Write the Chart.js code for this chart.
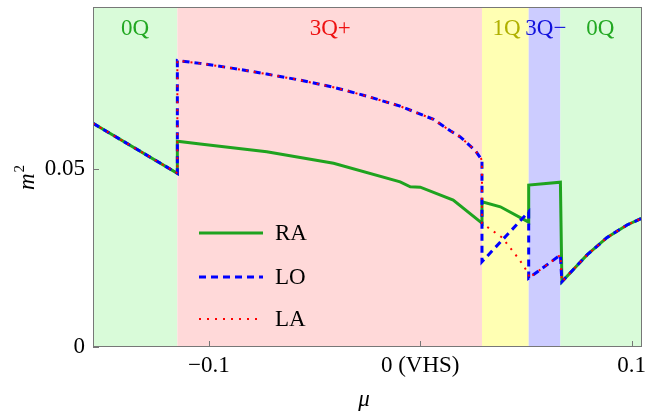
<!DOCTYPE html>
<html>
<head>
<meta charset="utf-8">
<script src="https://cdn.jsdelivr.net/npm/chart.js@4.4.1/dist/chart.umd.min.js"></script>
<style>
  body { margin: 0; background: #fff; }
  #chart { display: block; }
</style>
</head>
<body>
<canvas id="chart" width="646" height="415"></canvas>
<script>
// phase regions along mu
var regionNames = ['0Q', '3Q+', '1Q', '3Q\u2212', '0Q'];
var regionEdges = [-0.1548, -0.1149, 0.0292, 0.0513, 0.0663, 0.1049];
var regionFill = ['#d9fbd9', '#ffd9d9', '#ffffb3', '#ccccff', '#d9fbd9'];
var regionText = ['#22a822', '#ee1111', '#b0b000', '#1111dd', '#22a822'];
var regionLabelX = [-0.1349, -0.0426, 0.0408, 0.0594, 0.0852];

// axis ticks
var xTicks = [-0.1, 0, 0.1];
var xTickLabels = ['\u22120.1', '0 (VHS)', '0.1'];
var yTicks = [0, 0.05];
var yTickLabels = ['0', '0.05'];

// RA
var raMu = [-0.1548, -0.1149, -0.1149, -0.1041, -0.0726, -0.0410, -0.0095, -0.0047, 0, 0.0156, 0.0292,
            0.0292, 0.0379, 0.0513, 0.0513, 0.0663, 0.0670, 0.0789, 0.0884, 0.0978, 0.1049];
var raM2 = [0.0627, 0.0487, 0.0577, 0.0569, 0.0547, 0.0515, 0.0463, 0.0449, 0.0448, 0.0412, 0.0347,
            0.0407, 0.0393, 0.0350, 0.0454, 0.0462, 0.0183, 0.0258, 0.0307, 0.0342, 0.0361];

// LO
var loMu = [-0.1548, -0.1149, -0.1149, -0.1041, -0.0884, -0.0726, -0.0568, -0.0410, -0.0252, -0.0095,
            0.0063, 0.0142, 0.0189, 0.0260, 0.0292, 0.0292, 0.0513, 0.0513, 0.0663, 0.0670,
            0.0789, 0.0884, 0.0978, 0.1049];
var loM2 = [0.0627, 0.0487, 0.0803, 0.0795, 0.0781, 0.0765, 0.0748, 0.0728, 0.0703, 0.0675,
            0.0638, 0.0606, 0.0589, 0.0551, 0.0524, 0.0239, 0.0379, 0.0193, 0.0258, 0.0183,
            0.0258, 0.0307, 0.0342, 0.0361];

// LA
var laMu = [-0.1548, -0.1149, -0.1149, -0.1041, -0.0884, -0.0726, -0.0568, -0.0410, -0.0252, -0.0095,
            0.0063, 0.0142, 0.0189, 0.0260, 0.0292, 0.0292, 0.0387, 0.0470, 0.0513, 0.0513, 0.0663, 0.0670,
            0.0789, 0.0884, 0.0978, 0.1049];
var laM2 = [0.0627, 0.0487, 0.0803, 0.0795, 0.0781, 0.0765, 0.0748, 0.0728, 0.0703, 0.0675,
            0.0638, 0.0606, 0.0589, 0.0551, 0.0524, 0.0347, 0.0307, 0.0244, 0.0205, 0.0193, 0.0258, 0.0183,
            0.0258, 0.0307, 0.0342, 0.0361];

function pts(xs, ys) {
  var out = [];
  for (var k = 0; k < xs.length; k++) out.push({x: xs[k], y: ys[k]});
  return out;
}

function noPad(s) {
  s.paddingTop = 0; s.paddingBottom = 0; s.paddingLeft = 0; s.paddingRight = 0;
}

var serif = '"Liberation Serif", "DejaVu Serif", serif';
var frameColor = '#777777';

var legendItems = [
  {label: 'RA', color: '#1fa31f', width: 3, dash: []},
  {label: 'LO', color: '#0000ff', width: 3, dash: [7, 5]},
  {label: 'LA', color: '#ff0000', width: 2, dash: [2, 6]}
];

var deco = {
  id: 'deco',
  beforeDatasetsDraw: function(chart) {
    var c = chart.ctx, a = chart.chartArea, xs = chart.scales.x;
    c.save();
    for (var r = 0; r < regionNames.length; r++) {
      var x0 = Math.max(a.left, xs.getPixelForValue(regionEdges[r]));
      var x1 = Math.min(a.right, xs.getPixelForValue(regionEdges[r + 1]));
      c.fillStyle = regionFill[r];
      c.fillRect(x0, a.top, x1 - x0, a.bottom - a.top);
    }
    c.font = '23px ' + serif;
    c.textAlign = 'center';
    c.textBaseline = 'alphabetic';
    for (var r = 0; r < regionNames.length; r++) {
      c.fillStyle = regionText[r];
      c.fillText(regionNames[r], xs.getPixelForValue(regionLabelX[r]), 35);
    }
    c.restore();
  },
  afterDatasetsDraw: function(chart) {
    var c = chart.ctx, a = chart.chartArea, xs = chart.scales.x, ys = chart.scales.y;
    c.save();
    // legend
    var ly = [233, 277, 319];
    c.font = '23px ' + serif;
    c.textBaseline = 'middle';
    c.textAlign = 'left';
    for (var k = 0; k < legendItems.length; k++) {
      var it = legendItems[k];
      c.strokeStyle = it.color;
      c.lineWidth = it.width;
      c.setLineDash(it.dash);
      c.beginPath();
      c.moveTo(199, ly[k]);
      c.lineTo(263, ly[k]);
      c.stroke();
      c.setLineDash([]);
      c.fillStyle = '#000';
      c.fillText(it.label, 275, ly[k] + 1);
    }
    // frame and inner ticks
    c.strokeStyle = frameColor;
    c.lineWidth = 1;
    c.strokeRect(a.left + 0.5, a.top + 0.5, a.right - a.left - 1, a.bottom - a.top - 1);
    c.beginPath();
    xTicks.forEach(function(v) {
      var px = Math.round(xs.getPixelForValue(v)) + 0.5;
      c.moveTo(px, a.bottom);
      c.lineTo(px, a.bottom - 6);
    });
    yTicks.forEach(function(v) {
      var py = Math.round(ys.getPixelForValue(v)) + 0.5;
      c.moveTo(a.left, py);
      c.lineTo(a.left + 6, py);
    });
    c.stroke();
    // axis titles
    c.fillStyle = '#000';
    c.textBaseline = 'alphabetic';
    c.font = 'italic 23px ' + serif;
    c.textAlign = 'center';
    c.fillText('\u03bc', 364, 406);
    c.translate(34, 190);
    c.rotate(-Math.PI / 2);
    c.textAlign = 'left';
    c.fillText('m', 0, 0);
    var mw = c.measureText('m').width;
    c.font = '15px ' + serif;
    c.fillText('2', mw + 1, -10);
    c.restore();
  }
};

var ctx = document.getElementById('chart').getContext('2d');
var myChart = new Chart(ctx, {
  type: 'line',
  data: {
    datasets: [
      {label: 'RA', data: pts(raMu, raM2), borderColor: '#1fa31f', borderWidth: 3, order: 3},
      {label: 'LO', data: pts(loMu, loM2), borderColor: '#0000ff', borderWidth: 3, borderDash: [7, 5], order: 2},
      {label: 'LA', data: pts(laMu, laM2), borderColor: '#ff0000', borderWidth: 2, borderDash: [2, 6], order: 1}
    ]
  },
  options: {
    responsive: false,
    animation: false,
    events: [],
    layout: {autoPadding: false, padding: {left: 0, right: 4, top: 7, bottom: 0}},
    elements: {point: {radius: 0}, line: {tension: 0, fill: false}},
    plugins: {legend: {display: false}, tooltip: {enabled: false}},
    scales: {
      x: {
        type: 'linear',
        min: regionEdges[0],
        max: regionEdges[regionEdges.length - 1],
        afterFit: function(s) { s.height = 68; noPad(s); },
        afterBuildTicks: function(s) { s.ticks = xTicks.map(function(v) { return {value: v}; }); },
        grid: {display: false, drawTicks: false},
        border: {display: false},
        ticks: {
          padding: 5,
          maxRotation: 0,
          color: '#000',
          font: {family: serif, size: 23},
          callback: function(v) { return xTickLabels[xTicks.indexOf(v)]; }
        }
      },
      y: {
        min: 0,
        max: 0.0953,
        afterFit: function(s) { s.width = 93; noPad(s); },
        afterBuildTicks: function(s) { s.ticks = yTicks.map(function(v) { return {value: v}; }); },
        grid: {display: false, drawTicks: false},
        border: {display: false},
        ticks: {
          padding: 8,
          color: '#000',
          font: {family: serif, size: 23},
          callback: function(v) { return yTickLabels[yTicks.indexOf(v)]; }
        }
      }
    }
  },
  plugins: [deco]
});
</script>
</body>
</html>
